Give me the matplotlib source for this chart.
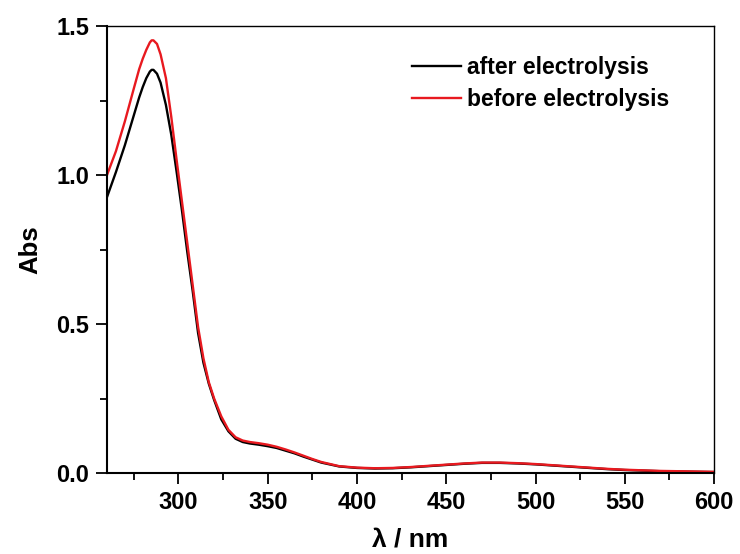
import matplotlib
matplotlib.use("Agg")
import matplotlib.pyplot as plt
from matplotlib.ticker import MultipleLocator

plt.rcParams['font.family'] = ['Liberation Sans', 'DejaVu Sans']
plt.rcParams['font.weight'] = 'bold'

# wavelength (nm)
wl = [260, 265, 270, 275, 278, 280, 282, 284, 285, 286, 288, 290, 293, 296,
      299, 302, 305, 308, 311, 314, 317, 320, 324, 328, 332, 336, 340, 345,
      350, 355, 360, 365, 370, 375, 380, 390, 400, 410, 420, 430, 440, 450,
      460, 470, 480, 490, 500, 510, 520, 530, 540, 550, 560, 570, 580, 590,
      600]

after = [0.926, 1.01, 1.10, 1.20, 1.26, 1.295, 1.325, 1.347, 1.353, 1.353,
         1.34, 1.31, 1.235, 1.135, 1.01, 0.88, 0.74, 0.61, 0.47, 0.37, 0.30,
         0.245, 0.18, 0.14, 0.115, 0.104, 0.099, 0.095, 0.090, 0.084, 0.075,
         0.066, 0.055, 0.045, 0.035, 0.022, 0.017, 0.015, 0.016, 0.019, 0.023,
         0.027, 0.031, 0.034, 0.034, 0.032, 0.029, 0.025, 0.021, 0.017, 0.013,
         0.010, 0.008, 0.006, 0.005, 0.004, 0.003]

before = [1.0, 1.08, 1.18, 1.29, 1.355, 1.39, 1.42, 1.445, 1.452, 1.452,
          1.44, 1.405, 1.325, 1.195, 1.05, 0.91, 0.77, 0.63, 0.49, 0.385,
          0.305, 0.25, 0.19, 0.145, 0.12, 0.109, 0.104, 0.100, 0.095, 0.088,
          0.079, 0.069, 0.058, 0.047, 0.037, 0.023, 0.018, 0.016, 0.017,
          0.020, 0.024, 0.028, 0.032, 0.035, 0.035, 0.033, 0.030, 0.026,
          0.022, 0.018, 0.014, 0.011, 0.009, 0.007, 0.006, 0.005, 0.004]

fig = plt.figure(figsize=(7.4, 5.54), dpi=100)
ax = fig.add_axes([0.1446, 0.1462, 0.8204, 0.8068])

ax.plot(wl, after, color='black', lw=1.7, label='after electrolysis')
ax.plot(wl, before, color='#e8191f', lw=1.7, label='before electrolysis')

ax.set_xlim(260, 600)
ax.set_ylim(0, 1.5)
ax.xaxis.set_major_locator(MultipleLocator(50))
ax.xaxis.set_minor_locator(MultipleLocator(25))
ax.yaxis.set_major_locator(MultipleLocator(0.5))
ax.yaxis.set_minor_locator(MultipleLocator(0.25))
ax.set_xticks([300, 350, 400, 450, 500, 550, 600])

for s in ['left', 'bottom']:
    ax.spines[s].set_linewidth(1.5)
for s in ['top', 'right']:
    ax.spines[s].set_linewidth(1.0)

ax.tick_params(which='major', direction='out', length=8, width=1.3,
               labelsize=17, pad=5)
ax.tick_params(which='minor', direction='out', length=5, width=1.3)
for lab in ax.get_xticklabels() + ax.get_yticklabels():
    lab.set_fontweight('bold')

ax.set_xlabel('λ / nm', fontsize=19, fontweight='bold', labelpad=10)
ax.set_ylabel('Abs', fontsize=18.5, fontweight='bold', labelpad=10)

leg = ax.legend(loc='upper left', bbox_to_anchor=(0.502, 0.932), frameon=False,
                fontsize=16.5, handlelength=2.15, handletextpad=0.28,
                labelspacing=0.37, borderpad=0, borderaxespad=0)
for t in leg.get_texts():
    t.set_fontweight('bold')

fig.savefig('out.png', dpi=100)
